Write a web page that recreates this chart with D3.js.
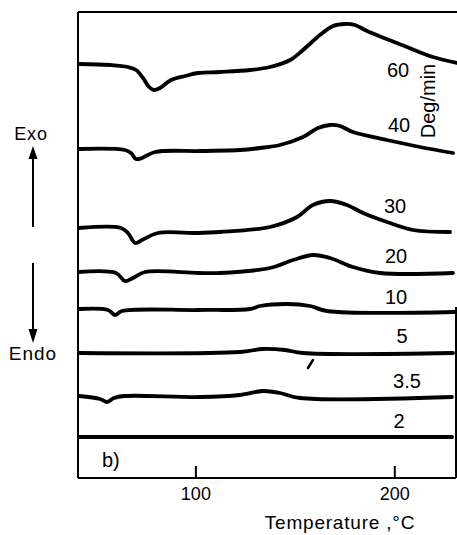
<!DOCTYPE html>
<html>
<head>
<meta charset="utf-8">
<script src="https://cdn.jsdelivr.net/npm/d3@7"></script>
<style>
  html, body { margin: 0; padding: 0; background: #fff; }
  svg { display: block; }
  text { font-family: "Liberation Sans", Arial, sans-serif; fill: #000; }
</style>
</head>
<body>
<svg id="chart" width="457" height="535"></svg>
<script>
// ---------- data (temperature in °C, signal in arbitrary offset units) ----------
const rates = ["60", "40", "30", "20", "10", "5", "3.5", "2"];

const temp60 = [41.5, 57.1, 66.1, 70.2, 73.7, 76.7, 79.2, 82.2, 87.8, 94.8, 101.3, 112.4, 127.5, 137.5, 147.6, 154.1, 162.6, 169.2, 175.2, 180.2, 186.3, 206.4, 219.4, 231.5];
const sig60  = [41.4, 41.3, 41.1, 40.8, 40.0, 39.1, 38.8, 39.0, 39.8, 40.2, 40.5, 40.6, 40.8, 41.1, 41.8, 42.8, 44.3, 45.2, 45.4, 45.3, 44.7, 43.1, 42.1, 41.5];

const temp40 = [41.5, 64.6, 67.6, 70.2, 73.2, 79.7, 102.3, 122.4, 132.5, 142.5, 154.1, 161.6, 167.7, 172.7, 179.2, 196.3, 212.9, 229.5];
const sig40  = [32.9, 32.8, 32.5, 31.9, 32.0, 32.6, 32.7, 32.8, 33.0, 33.3, 34.1, 35.0, 35.3, 35.2, 34.6, 33.8, 33.1, 32.5];

const temp30 = [41.5, 62.6, 66.1, 69.7, 73.2, 81.2, 101.3, 112.4, 137.5, 151.1, 159.1, 167.7, 176.2, 184.3, 196.3, 209.4, 228.0];
const sig30  = [25.0, 25.0, 24.5, 23.5, 23.8, 24.5, 24.5, 24.6, 25.1, 26.1, 27.3, 27.7, 27.3, 26.5, 25.6, 24.8, 24.6];

const temp20 = [41.5, 60.1, 64.6, 68.6, 74.7, 101.3, 112.4, 137.5, 149.1, 159.1, 167.7, 179.2, 192.8, 229.5];
const sig20  = [20.6, 20.5, 19.7, 20.0, 20.6, 20.5, 20.5, 21.0, 21.8, 22.3, 22.0, 21.1, 20.5, 20.5];

const temp10 = [41.5, 56.1, 59.6, 63.1, 101.3, 127.5, 132.5, 146.1, 157.6, 166.2, 230.5];
const sig10  = [16.9, 16.8, 16.3, 16.7, 16.8, 16.9, 17.2, 17.4, 17.2, 16.7, 16.6];

const temp5 = [41.5, 122.4, 134.0, 145.0, 154.1, 229.5];
const sig5  = [12.5, 12.6, 12.9, 12.8, 12.5, 12.5];

const temp35 = [41.5, 52.1, 55.6, 59.1, 64.6, 102.3, 122.4, 134.0, 142.5, 152.6, 229.0];
const sig35  = [8.2, 7.9, 7.6, 8.0, 8.2, 8.1, 8.3, 8.7, 8.5, 8.0, 8.1];

const temp2 = [41.5, 135.0, 229.0];
const sig2  = [4.1, 4.1, 4.1];

const xTicks = [100, 200];
const xTickLabels = ["100", "200"];

// ---------- layout ----------
const svg = d3.select("#chart");
const L = 78, R = 456, T = 12, B = 478;

const x = d3.scaleLinear().domain([41, 231]).range([L, R]);
const y = d3.scaleLinear().domain([0, 46.6]).range([B, T]);

const series = [
  { rate: rates[0], t: temp60, s: sig60 },
  { rate: rates[1], t: temp40, s: sig40 },
  { rate: rates[2], t: temp30, s: sig30 },
  { rate: rates[3], t: temp20, s: sig20 },
  { rate: rates[4], t: temp10, s: sig10 },
  { rate: rates[5], t: temp5,  s: sig5  },
  { rate: rates[6], t: temp35, s: sig35 },
  { rate: rates[7], t: temp2,  s: sig2  }
];

svg.append("clipPath").attr("id", "clip")
  .append("rect").attr("x", L).attr("y", T).attr("width", 457 - L).attr("height", B - T);

// frame
const frame = svg.append("g").attr("stroke", "#000").attr("stroke-width", 2).attr("fill", "none");
frame.append("line").attr("x1", L).attr("x2", L).attr("y1", T).attr("y2", B);
frame.append("line").attr("x1", L).attr("x2", 457).attr("y1", T).attr("y2", T);
frame.append("line").attr("x1", L).attr("x2", R).attr("y1", B).attr("y2", B);
frame.append("line").attr("x1", R).attr("x2", R).attr("y1", 307).attr("y2", B);

// x axis (inward ticks)
const axis = d3.axisBottom(x).tickValues(xTicks)
  .tickFormat((d, i) => xTickLabels[i])
  .tickSizeInner(-12).tickSizeOuter(0).tickPadding(9);
const gx = svg.append("g").attr("transform", `translate(0,${B})`).call(axis);
gx.select(".domain").remove();
gx.selectAll(".tick line").attr("stroke", "#000").attr("stroke-width", 2);
gx.selectAll(".tick text").attr("font-size", 18).attr("font-family", "Liberation Sans, Arial, sans-serif").attr("fill", "#000");

// curves
const line = d3.line()
  .x(d => x(d[0]))
  .y(d => y(d[1]))
  .curve(d3.curveCatmullRom.alpha(0.5));

svg.append("g").attr("clip-path", "url(#clip)")
  .selectAll("path.curve").data(series).join("path")
  .attr("class", "curve")
  .attr("d", d => line(d.t.map((tt, i) => [tt, d.s[i]])))
  .attr("fill", "none").attr("stroke", "#000")
  .attr("stroke-width", 3.8).attr("stroke-linejoin", "round").attr("stroke-linecap", "round");

// small stray mark under the 5 curve
svg.append("line")
  .attr("x1", x(156.6)).attr("y1", y(11.0))
  .attr("x2", x(159.1)).attr("y2", y(11.8))
  .attr("stroke", "#000").attr("stroke-width", 2.5).attr("stroke-linecap", "round");

// rate labels
const labelPos = [[398, 77], [399, 132], [395, 213], [396, 263], [396, 304], [402, 343], [407, 388], [399, 428]];
svg.append("g").selectAll("text.rate").data(series).join("text")
  .attr("class", "rate")
  .attr("x", (d, i) => labelPos[i][0]).attr("y", (d, i) => labelPos[i][1])
  .attr("text-anchor", "middle").attr("font-size", 20)
  .text(d => d.rate);

svg.append("text")
  .attr("transform", "translate(435,101) rotate(-90)")
  .attr("text-anchor", "middle").attr("font-size", 20)
  .text("Deg/min");

svg.append("text").attr("x", 102).attr("y", 467).attr("font-size", 20).text("b)");

// axis title
svg.append("text").attr("x", 340).attr("y", 529).attr("text-anchor", "middle")
  .attr("font-size", 19).attr("letter-spacing", 0.8).text("Temperature ,°C");

// Exo / Endo arrows
svg.append("text").attr("x", 31).attr("y", 140).attr("text-anchor", "middle")
  .attr("font-size", 18).attr("letter-spacing", 0.8).text("Exo");
svg.append("text").attr("x", 33).attr("y", 360).attr("text-anchor", "middle")
  .attr("font-size", 19).attr("letter-spacing", 1).text("Endo");

const arr = svg.append("g");
arr.append("line").attr("x1", 33).attr("x2", 33).attr("y1", 157).attr("y2", 227)
  .attr("stroke", "#000").attr("stroke-width", 2);
arr.append("path").attr("d", "M33,146 L28.5,159 L37.5,159 Z").attr("fill", "#000");
arr.append("line").attr("x1", 33).attr("x2", 33).attr("y1", 263).attr("y2", 332)
  .attr("stroke", "#000").attr("stroke-width", 2);
arr.append("path").attr("d", "M33,343 L28.5,329 L37.5,329 Z").attr("fill", "#000");
</script>
</body>
</html>
